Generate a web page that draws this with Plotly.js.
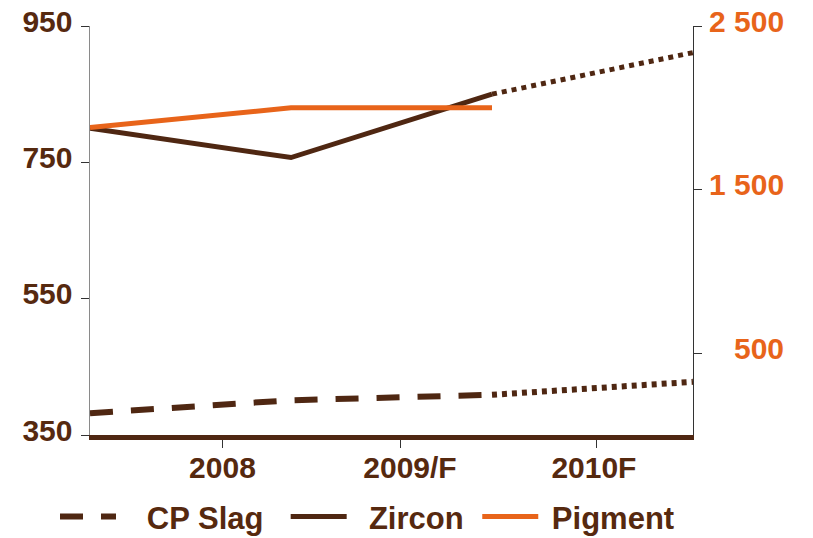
<!DOCTYPE html>
<html>
<head>
<meta charset="utf-8">
<script src="https://cdn.plot.ly/plotly-3.0.1.min.js"></script>
<style>
  html, body { margin: 0; padding: 0; background: #ffffff; }
  #chart { width: 813px; height: 538px; }
</style>
</head>
<body>
<div id="chart"></div>
<script>
// Periods along the x axis (0 = start of 2008 … 3 = end of 2010F)
const periods = [0, 1, 2, 3];
// Index of the first forecast point: lines turn dotted from here on
const forecastFrom = 2;

// Prices, left axis
const cpSlag = [382, 401, 409, 428];
const zircon = [800, 757, 850, 911];
// Pigment, right axis
const pigment = [1880, 2000, 2000];

// Axis ticks and labels
const xTickPos = [0.657, 1.546, 2.521];
const xLabelPos = [0.659, 1.592, 2.507];
const xLabels = ['2008', '2009/F', '2010F'];
const leftTicks = [350, 550, 750, 950];
const rightTicks = [500, 1500, 2500];
const rightTickText = ['\u00a0\u00a0\u00a0500', '1 500', '2 500'];

const BROWN = '#4f2712';
const TEXT_BROWN = '#56290f';
const ORANGE = '#e8641a';
const FONT = 'Liberation Sans, Arial, Helvetica, sans-serif';

const actual = arr => arr.slice(0, forecastFrom + 1);
const forecast = arr => arr.slice(forecastFrom);
// pad a legend name with non-breaking spaces on either side
const pad = (s, before, after) => '\u00a0'.repeat(before) + s + '\u00a0'.repeat(after);

const traces = [
  {
    name: pad('CP Slag', 3, 2), x: actual(periods), y: actual(cpSlag),
    mode: 'lines', line: { color: BROWN, width: 6, dash: '23px,18px' },
    yaxis: 'y', xaxis: 'x'
  },
  {
    name: 'CP Slag forecast', x: forecast(periods), y: forecast(cpSlag),
    mode: 'lines', line: { color: BROWN, width: 6, dash: '5px,5px' },
    showlegend: false, yaxis: 'y', xaxis: 'x'
  },
  {
    name: pad('Zircon', 2, 1), x: actual(periods), y: actual(zircon),
    mode: 'lines', line: { color: BROWN, width: 5 },
    yaxis: 'y', xaxis: 'x'
  },
  {
    name: 'Zircon forecast', x: forecast(periods), y: forecast(zircon),
    mode: 'lines', line: { color: BROWN, width: 5, dash: '5px,5px' },
    showlegend: false, yaxis: 'y', xaxis: 'x'
  },
  {
    name: pad('Pigment', 1, 0), x: periods.slice(0, pigment.length), y: pigment,
    mode: 'lines', line: { color: ORANGE, width: 5 },
    yaxis: 'y2', xaxis: 'x'
  }
];

const tickFont = { family: FONT, size: 30, weight: 'bold', color: TEXT_BROWN };

const layout = {
  width: 813, height: 538,
  margin: { l: 90, r: 120, t: 26, b: 103, pad: 0, autoexpand: false },
  paper_bgcolor: '#ffffff', plot_bgcolor: '#ffffff',
  showlegend: true,
  legend: {
    orientation: 'h', x: -0.058, xanchor: 'left', y: -0.2, yanchor: 'middle',
    font: { family: FONT, size: 31, weight: 'bold', color: TEXT_BROWN },
    itemwidth: 56, bgcolor: 'rgba(0,0,0,0)', traceorder: 'normal'
  },
  xaxis: {
    range: [0, 3], showgrid: false, zeroline: false,
    showline: true, linecolor: BROWN, linewidth: 5,
    ticks: 'outside', ticklen: 8, tickwidth: 1, tickcolor: '#333333',
    tickvals: xTickPos, showticklabels: false, fixedrange: true
  },
  xaxis2: {
    overlaying: 'x', anchor: 'y', side: 'bottom',
    range: [0, 3], showgrid: false, zeroline: false, showline: false,
    ticks: '', tickvals: xLabelPos, ticktext: xLabels,
    tickfont: tickFont, ticklabelstandoff: 12
  },
  yaxis: {
    range: [350, 950], showgrid: false, zeroline: false,
    showline: true, linecolor: '#8a8a8a', linewidth: 1.5,
    ticks: 'outside', ticklen: 8, tickwidth: 1, tickcolor: '#333333',
    tickvals: leftTicks, ticktext: leftTicks.map(String),
    tickfont: tickFont, ticklabelshift: -5, ticklabelstandoff: 2
  },
  yaxis2: {
    overlaying: 'y', side: 'right', anchor: 'x',
    range: [0, 2500], showgrid: false, zeroline: false,
    showline: true, linecolor: '#333333', linewidth: 1,
    ticks: 'outside', ticklen: 8, tickwidth: 1, tickcolor: '#333333',
    tickvals: rightTicks, ticktext: rightTickText,
    tickfont: Object.assign({}, tickFont, { color: ORANGE }),
    ticklabelshift: -5, ticklabelstandoff: 1
  }
};

// Blank trace so the label axis is drawn
traces.push({ x: [], y: [], xaxis: 'x2', yaxis: 'y', showlegend: false, hoverinfo: 'skip' });

Plotly.newPlot('chart', traces, layout, { staticPlot: true, displayModeBar: false });
</script>
</body>
</html>
